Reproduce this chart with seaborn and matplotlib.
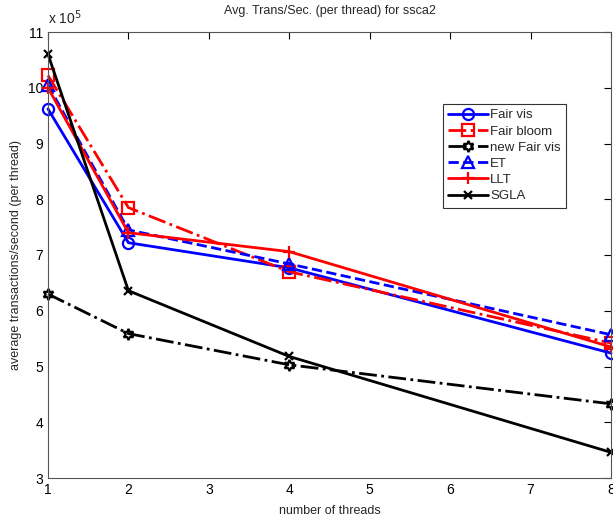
import matplotlib
matplotlib.use("Agg")
import matplotlib.pyplot as plt
import seaborn as sns
import numpy as np

threads = [1, 2, 4, 8]
fair_vis = [962000, 722000, 677000, 524000]
fair_bloom = [1022000, 785000, 670000, 542000]
new_fair_vis = [630000, 559000, 503000, 433000]
et = [1005000, 745000, 684000, 557000]
llt = [1000000, 740000, 706000, 535000]
sgla = [1060000, 636000, 518000, 346000]

series = [
    ("Fair vis", fair_vis, "#0000ff", "-", "o", 8),
    ("Fair bloom", fair_bloom, "#ff0000", "-.", "s", 8),
    ("new Fair vis", new_fair_vis, "#000000", "-.", (6, 1, 0), 8),
    ("ET", et, "#0000ff", "--", "^", 8),
    ("LLT", llt, "#ff0000", "-", "+", 9),
    ("SGLA", sgla, "#000000", "-", "x", 6),
]

sns.set_style("white")
plt.rcParams["font.family"] = ["Liberation Sans", "DejaVu Sans"]

fig = plt.figure(figsize=(6.13, 5.16), dpi=100)
ax = fig.add_axes([48/613, 1-478/516, (611-48)/613, (478-32)/516])

for name, vals, col, ls, mk, ms in series:
    y = np.array(vals) / 1e5
    sns.lineplot(x=threads, y=y, ax=ax, color=col, linestyle=ls, marker=mk,
                 markersize=ms, markerfacecolor="none", markeredgecolor=col,
                 markeredgewidth=1.6, linewidth=2, label=name, clip_on=False)

ax.set_xlim(1, 8)
ax.set_ylim(3, 11)
ax.set_xticks(range(1, 9))
ax.set_yticks(range(3, 12))
ax.tick_params(direction="in", top=True, right=True, length=5, labelsize=10,
               colors="#000000", width=0.8)
for s in ax.spines.values():
    s.set_color("#555555")
    s.set_linewidth(0.8)
ax.set_xlabel("number of threads", fontsize=9, labelpad=6)
ax.set_ylabel("average transactions/second (per thread)", fontsize=9)
ax.set_title("Avg. Trans/Sec. (per thread) for ssca2", fontsize=9, pad=13)
ax.text(0.0, 1.012, r"x 10$^5$", transform=ax.transAxes, fontsize=10,
        ha="left", va="bottom")

leg = ax.legend(loc="upper left", bbox_to_anchor=(0.701, 0.839), fontsize=9.5,
                frameon=True, fancybox=False, edgecolor="#333333",
                framealpha=1, handlelength=3.0, handletextpad=0.2,
                borderpad=0.4, labelspacing=0.3, borderaxespad=0)
leg.get_frame().set_linewidth(0.8)

fig.savefig("out.png", dpi=100, facecolor="white")
